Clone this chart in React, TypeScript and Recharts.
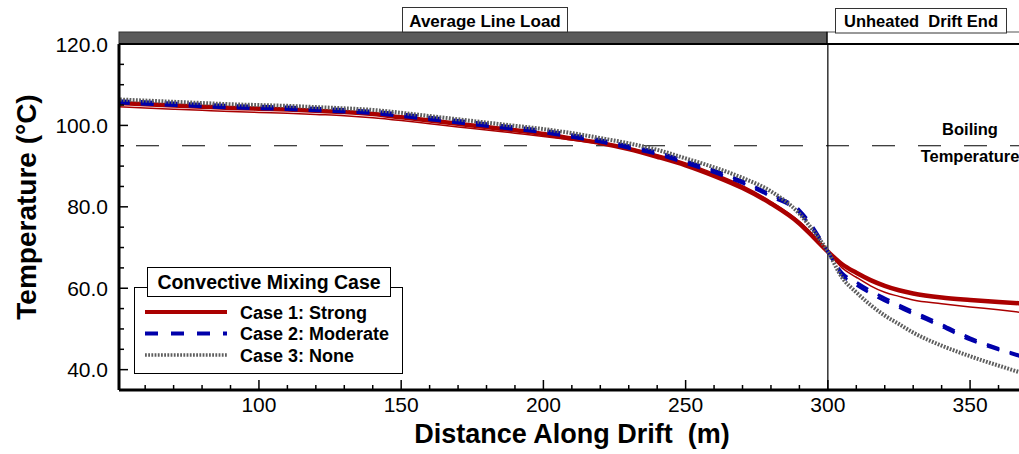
import React from "react";
import { LineChart, Line, XAxis, YAxis, ReferenceLine } from "recharts";

const distance = [50, 60, 70, 80, 90, 100, 110, 120, 130, 140, 150, 160, 170, 180, 190, 200, 210, 220, 230, 240, 250, 260, 270, 280, 290, 295, 300, 305, 310, 315, 320, 325, 330, 340, 350, 360, 370];

// Case 1: Strong (thick + thin red)
const strongA = [105.5, 105.2, 104.9, 104.6, 104.3, 104.1, 103.9, 103.6, 103.3, 102.8, 102.0, 101.2, 100.4, 99.6, 98.8, 97.9, 96.8, 95.7, 94.2, 92.3, 90.2, 87.6, 84.6, 80.8, 75.9, 72.5, 69.0, 65.9, 63.8, 62.0, 60.6, 59.5, 58.7, 57.7, 57.1, 56.6, 56.2];
const strongB = [104.6, 104.3, 104.0, 103.7, 103.4, 103.2, 103.0, 102.7, 102.4, 101.9, 101.2, 100.4, 99.6, 98.9, 98.1, 97.3, 96.4, 95.5, 94.4, 92.8, 90.8, 88.2, 85.2, 81.3, 76.4, 73.0, 69.0, 65.0, 62.7, 60.6, 59.0, 58.0, 57.1, 56.2, 55.4, 54.7, 53.9];
// Case 2: Moderate (two blue dashed)
const moderateA = [106.1, 105.8, 105.5, 105.2, 104.9, 104.7, 104.5, 104.2, 103.9, 103.5, 102.8, 102.0, 101.2, 100.4, 99.6, 98.8, 97.7, 96.5, 95.0, 93.5, 91.3, 89.0, 86.3, 83.0, 79.2, 74.8, 69.0, 63.8, 61.5, 59.4, 57.6, 55.9, 54.3, 51.1, 47.8, 45.2, 43.0];
const moderateB = [105.5, 105.2, 104.9, 104.6, 104.3, 104.1, 103.9, 103.6, 103.3, 102.9, 102.2, 101.4, 100.6, 99.8, 99.0, 98.2, 97.1, 95.9, 94.4, 92.9, 90.7, 88.4, 85.8, 82.5, 78.6, 74.3, 69.0, 63.2, 60.8, 58.7, 56.9, 55.3, 53.7, 50.6, 47.3, 44.9, 42.7];
// Case 3: None (gray dotted)
const noneA = [106.4, 106.1, 105.8, 105.5, 105.2, 105.0, 104.8, 104.5, 104.2, 103.8, 103.1, 102.3, 101.5, 100.7, 99.9, 99.1, 98.1, 96.9, 95.6, 94.0, 91.9, 89.7, 87.1, 83.8, 78.3, 74.0, 69.0, 62.6, 59.0, 55.9, 53.3, 51.2, 49.1, 45.9, 43.3, 41.0, 38.8];

const xTicks = [60, 70, 80, 90, 100, 110, 120, 130, 140, 150, 160, 170, 180, 190, 200, 210, 220, 230, 240, 250, 260, 270, 280, 290, 300, 310, 320, 330, 340, 350, 360];
const xLabels = [100, 150, 200, 250, 300, 350];
const yTicks = [40, 45, 50, 55, 60, 65, 70, 75, 80, 85, 90, 95, 100, 105, 110, 115, 120];
const yLabels = [40, 60, 80, 100, 120];

const boilingTemp = 95;
const heatedEnd = 300;

const data = distance.map((d, i) => ({
  distance: d,
  strongA: strongA[i],
  strongB: strongB[i],
  moderateA: moderateA[i],
  moderateB: moderateB[i],
  noneA: noneA[i],
}));

const RED = "#aa0000";
const BLUE = "#0000aa";
const GRAY = "#5e5e5e";

const legendItems = [
  { name: "Case 1: Strong", color: RED, dash: undefined as string | undefined, width: 4 },
  { name: "Case 2: Moderate", color: BLUE, dash: "13 13", width: 4 },
  { name: "Case 3: None", color: GRAY, dash: "1.8 1.4", width: 3.5 },
];

const W = 1019;
const H = 454;
const PLOT_LEFT = 119;
const PLOT_TOP = 44;
const PLOT_BOTTOM = 390;
const FONT = "'Liberation Sans', Arial, Helvetica, sans-serif";

const YTick = (props: any) => {
  const { y, payload } = props;
  const v = payload.value;
  const major = yLabels.includes(v);
  return (
    <g>
      <line x1={PLOT_LEFT} x2={PLOT_LEFT + (major ? 9 : 5)} y1={y} y2={y} stroke="#000" strokeWidth={1.5} />
      {major && (
        <text x={108} y={y + 7.5} textAnchor="end" fontSize={21} fill="#000" fontFamily={FONT}>
          {v.toFixed(1)}
        </text>
      )}
    </g>
  );
};

const XTick = (props: any) => {
  const { x, payload } = props;
  const v = payload.value;
  const major = xLabels.includes(v);
  return (
    <g>
      <line x1={x} x2={x} y1={PLOT_BOTTOM} y2={PLOT_BOTTOM - (major ? 10 : 5)} stroke="#000" strokeWidth={1.5} />
      {major && (
        <text x={x} y={412} textAnchor="middle" fontSize={21} fill="#000" fontFamily={FONT}>
          {v}
        </text>
      )}
    </g>
  );
};

export default function App() {
  return (
    <div style={{ position: "absolute", left: 0, top: 0, width: W, height: H, background: "#fff", fontFamily: FONT }}>
      <LineChart width={W} height={H} data={data} margin={{ top: PLOT_TOP, right: 0, bottom: 0, left: 0 }}>
        <XAxis
          type="number"
          dataKey="distance"
          domain={[50.8, 367.2]}
          allowDataOverflow
          ticks={xTicks}
          interval={0}
          height={H - PLOT_BOTTOM}
          tickLine={false}
          axisLine={{ stroke: "#000", strokeWidth: 3 }}
          tick={XTick}
        />
        <YAxis
          type="number"
          domain={[35, 120]}
          allowDataOverflow
          ticks={yTicks}
          interval={0}
          width={PLOT_LEFT}
          tickLine={false}
          axisLine={{ stroke: "#000", strokeWidth: 3 }}
          tick={YTick}
        />
        <ReferenceLine y={boilingTemp} stroke="#000" strokeWidth={1} strokeDasharray="23 23" strokeDashoffset={29} />
        <ReferenceLine x={heatedEnd} stroke="#000" strokeWidth={1.2} />
        <Line type="monotone" dataKey="strongA" stroke={RED} strokeWidth={4.5} dot={false} isAnimationActive={false} />
        <Line type="monotone" dataKey="strongB" stroke={RED} strokeWidth={1.5} dot={false} isAnimationActive={false} />
        <Line type="monotone" dataKey="moderateA" stroke={BLUE} strokeWidth={3} strokeDasharray="13 11" dot={false} isAnimationActive={false} />
        <Line type="monotone" dataKey="moderateB" stroke={BLUE} strokeWidth={3} strokeDasharray="13 11" dot={false} isAnimationActive={false} />
        <Line type="monotone" dataKey="noneA" stroke={GRAY} strokeWidth={4} strokeDasharray="1.8 1.4" dot={false} isAnimationActive={false} />
      </LineChart>

      <svg width={W} height={H} style={{ position: "absolute", left: 0, top: 0, pointerEvents: "none" }} fontFamily={FONT}>
        {/* heated / unheated bars above the plot */}
        <rect x={PLOT_LEFT} y={32} width={708} height={12} fill="#5a5a5a" stroke="#333" strokeWidth={1} />
        <rect x={827} y={32} width={200} height={12} fill="#fff" stroke="#555" strokeWidth={1} />
        <line x1={PLOT_LEFT} x2={W} y1={PLOT_TOP} y2={PLOT_TOP} stroke="#000" strokeWidth={2} />
        <line x1={827} x2={827} y1={32} y2={PLOT_TOP} stroke="#000" strokeWidth={1.2} />

        <rect x={402.5} y={7.5} width={165} height={24.5} fill="#fff" stroke="#333" strokeWidth={1} />
        <text x={485} y={26.5} textAnchor="middle" fontSize={17} fontWeight="bold">Average Line Load</text>
        <rect x={835.5} y={8.5} width={171} height={24.5} fill="#fff" stroke="#333" strokeWidth={1} />
        <text x={921} y={27} textAnchor="middle" fontSize={16.5} fontWeight="bold" style={{ whiteSpace: "pre" }}>
          {"Unheated  Drift End"}
        </text>

        <text x={970} y={135} textAnchor="middle" fontSize={16.5} fontWeight="bold">Boiling</text>
        <text x={970} y={162} textAnchor="middle" fontSize={16.5} fontWeight="bold">Temperature</text>

        {/* legend */}
        <rect x={134.5} y={287.5} width={268} height={86} fill="#fff" stroke="#000" strokeWidth={1} />
        <rect x={147.5} y={267.5} width={243} height={29} fill="#fff" stroke="#000" strokeWidth={1} />
        <text x={269} y={289} textAnchor="middle" fontSize={19.5} fontWeight="bold">Convective Mixing Case</text>
        {legendItems.map((it, i) => {
          const cy = 312 + i * 21.5;
          return (
            <g key={it.name}>
              <line x1={145} x2={227} y1={cy} y2={cy} stroke={it.color} strokeWidth={it.width} strokeDasharray={it.dash} />
              <text x={240} y={cy + 6.5} fontSize={18} fontWeight="bold">{it.name}</text>
            </g>
          );
        })}

        {/* axis titles */}
        <text x={572} y={443} textAnchor="middle" fontSize={27} fontWeight="bold" style={{ whiteSpace: "pre" }}>
          {"Distance Along Drift  (m)"}
        </text>
        <text transform="translate(36 207) rotate(-90)" textAnchor="middle" fontSize={28} fontWeight="bold">
          Temperature (°C)
        </text>
      </svg>
    </div>
  );
}
